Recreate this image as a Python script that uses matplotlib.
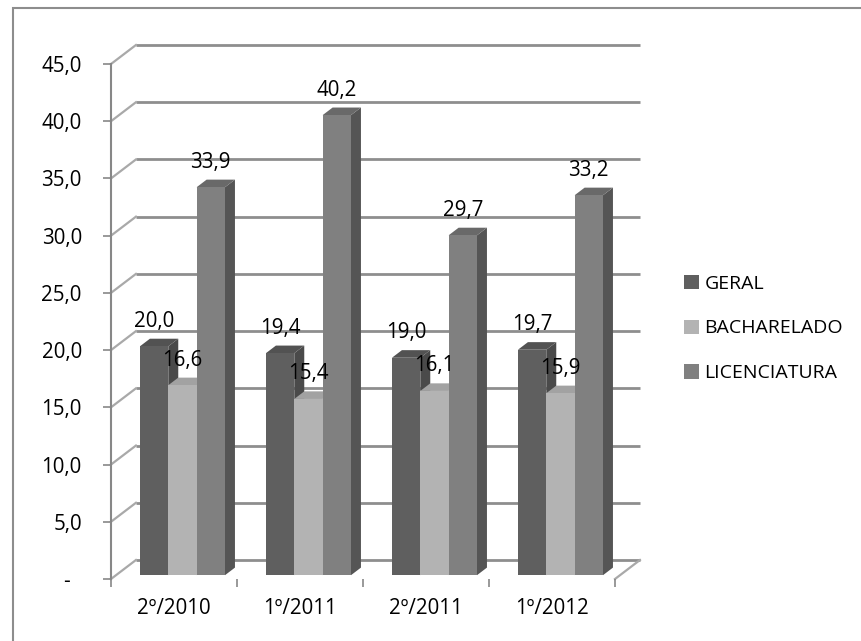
import matplotlib
matplotlib.use("Agg")
import matplotlib.pyplot as plt
from matplotlib.patches import Polygon, Patch, Rectangle

plt.rcParams['font.family'] = ['Open Sans', 'DejaVu Sans']

# data
categories = ['2º/2010', '1º/2011', '2º/2011', '1º/2012']
series_names = ['GERAL', 'BACHARELADO', 'LICENCIATURA']
geral = [20.0, 19.4, 19.0, 19.7]
bacharelado = [16.6, 15.4, 16.1, 15.9]
licenciatura = [33.9, 40.2, 29.7, 33.2]
y_ticks = [0, 5, 10, 15, 20, 25, 30, 35, 40, 45]

series = [geral, bacharelado, licenciatura]
# front, side, top colours per series
colors = [('#5f5f5f', '#4a4a4a', '#525252'),
          ('#b3b3b3', '#9a9a9a', '#a2a2a2'),
          ('#808080', '#555555', '#696969')]

# oblique projection of the depth axis (data units per unit depth)
DEPTH_X = 0.198
DEPTH_Y = 1.66
BAR_W = 0.225
GROUP_OFF = 0.19
D_FRONT, D_BACK = 0.2, 0.6
GRID = '#8e8e8e'
WALL = '#a9a9a9'
FS = 14.8


def proj(x, v, d):
    return (x + d * DEPTH_X, v + d * DEPTH_Y)


def fmt(v):
    return ('%.1f' % v).replace('.', ',')


fig = plt.figure(figsize=(8.62, 6.41), dpi=100)
ax = fig.add_axes([111 / 862, 62 / 641, 504 / 862, 515 / 641])
ax.set_xlim(0, len(categories))
ax.set_ylim(0, 45)
ax.patch.set_visible(False)

# outer border (only left and top are inside the picture)
fig.patches.append(Rectangle((13 / 862, -0.1), 1.2, 1.1 - 8 / 641,
                             transform=fig.transFigure, fill=False,
                             edgecolor='#8d8d8d', linewidth=1.5))

# back wall gridlines and left wall diagonals
n = len(categories)
for v in y_ticks:
    x0, y0 = proj(0, v, 1)
    x1, y1 = proj(n, v, 1)
    ax.plot([x0, x1], [y0, y1], color=GRID, lw=2.0, clip_on=False, zorder=1,
            solid_capstyle='butt')
    a = proj(0, v, 0)
    b = proj(0, v, 1)
    ax.plot([a[0], b[0]], [a[1], b[1]], color=WALL, lw=1.6, clip_on=False, zorder=1)
# floor right edge
a = proj(n, 0, 0)
b = proj(n, 0, 1)
ax.plot([a[0], b[0]], [a[1], b[1]], color=WALL, lw=1.6, clip_on=False, zorder=1)

# bars
z = 2
for i in range(n):
    for s, vals in enumerate(series):
        v = vals[i]
        xl = i + GROUP_OFF + s * BAR_W
        xr = xl + BAR_W
        front = [proj(xl, 0, D_FRONT), proj(xr, 0, D_FRONT),
                 proj(xr, v, D_FRONT), proj(xl, v, D_FRONT)]
        side = [proj(xr, 0, D_FRONT), proj(xr, 0, D_BACK),
                proj(xr, v, D_BACK), proj(xr, v, D_FRONT)]
        top = [proj(xl, v, D_FRONT), proj(xr, v, D_FRONT),
               proj(xr, v, D_BACK), proj(xl, v, D_BACK)]
        cf, cs, ct = colors[s]
        ax.add_patch(Polygon(side, closed=True, facecolor=cs, edgecolor='none',
                             zorder=z, clip_on=False))
        ax.add_patch(Polygon(top, closed=True, facecolor=ct, edgecolor='none',
                             zorder=z, clip_on=False))
        ax.add_patch(Polygon(front, closed=True, facecolor=cf, edgecolor='none',
                             zorder=z, clip_on=False))
        z += 1
        lx, ly = proj((xl + xr) / 2, v, D_FRONT)
        ax.annotate(fmt(v), xy=(lx, ly), xytext=(0, 18), textcoords='offset points',
                    ha='center', va='center', fontsize=FS, color='black',
                    zorder=50, annotation_clip=False)

# axes
for sp in ['top', 'right', 'bottom']:
    ax.spines[sp].set_visible(False)
ax.spines['left'].set_color('#878787')
ax.spines['left'].set_linewidth(1.5)
ax.set_yticks(y_ticks)
ax.set_yticklabels(['-  '] + [fmt(v) for v in y_ticks[1:]])
ax.tick_params(axis='y', length=6, width=1.2, color='#878787', pad=15,
               labelsize=FS)
ax.set_xticks([i + 0.5 for i in range(n)])
ax.set_xticklabels(categories)
ax.set_xticks(range(n + 1), minor=True)
ax.tick_params(axis='x', which='major', length=0, pad=14, labelsize=FS)
ax.tick_params(axis='x', which='minor', length=5.5, width=1.2, color='#878787')

handles = [Patch(facecolor=c[0], edgecolor='none') for c in colors]
ax.legend(handles, series_names, loc='center left',
          bbox_to_anchor=(684 / 862, 1 - 328.5 / 641), bbox_transform=fig.transFigure,
          frameon=False, fontsize=14, handlelength=0.75, handleheight=0.75,
          handletextpad=0.3, labelspacing=1.38, borderpad=0, borderaxespad=0)

fig.savefig('out.png', dpi=100)
